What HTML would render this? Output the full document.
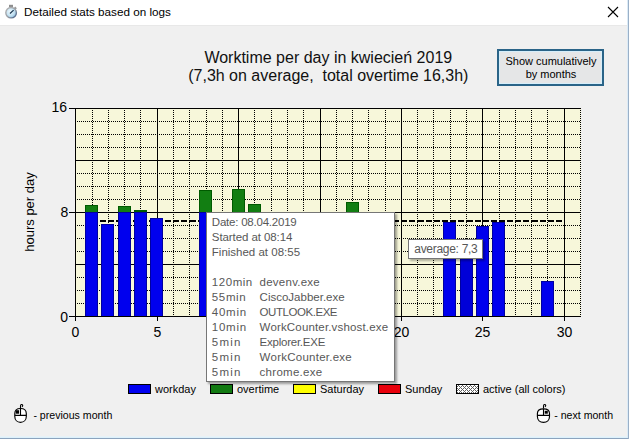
<!DOCTYPE html>
<html><head><meta charset="utf-8"><style>
*{margin:0;padding:0;box-sizing:border-box}
html,body{width:629px;height:439px;overflow:hidden;background:#F0F0F0;font-family:"Liberation Sans",sans-serif;}
.abs{position:absolute}
#tb{position:absolute;left:0;top:0;width:629px;height:25px;background:#fff}
.t11{position:absolute;font-size:11px;line-height:13px;color:#000;white-space:nowrap}
.ax{position:absolute;font-size:14px;line-height:16px;color:#000;white-space:nowrap}
#tt{position:absolute;left:206px;top:212px;width:189px;height:170px;background:#fff;border:1px solid #767676;box-shadow:2px 2px 2px rgba(0,0,0,0.35);}
#tt div{position:absolute;left:4.8px;font-size:11.5px;line-height:15px;color:#575757;white-space:nowrap}
#avg{position:absolute;left:408px;top:239px;width:75px;height:20px;letter-spacing:-0.3px;background:#fff;border:1px solid #767676;box-shadow:2px 2px 2px rgba(0,0,0,0.3);font-size:12px;line-height:19.5px;color:#575757;padding-left:5.3px;white-space:nowrap}
</style></head><body>
<div id="tb"></div>
<svg class="abs" style="left:0;top:0" width="629" height="439" shape-rendering="crispEdges">
<defs>
<pattern id="hatch" width="4" height="4" patternUnits="userSpaceOnUse">
<rect width="4" height="4" fill="#fff"/>
<rect x="1" y="0" width="1" height="1" fill="#606060"/><rect x="3" y="0" width="1" height="1" fill="#606060"/>
<rect x="2" y="1" width="1" height="1" fill="#606060"/>
<rect x="1" y="2" width="1" height="1" fill="#606060"/><rect x="3" y="2" width="1" height="1" fill="#606060"/>
<rect x="0" y="3" width="1" height="1" fill="#606060"/>
</pattern>
</defs>
<rect x="76" y="109" width="505" height="207" fill="#F7F7DA"/>
<line x1="75" y1="303.5" x2="581" y2="303.5" stroke="#000" stroke-dasharray="1 1"/>
<line x1="75" y1="290.5" x2="581" y2="290.5" stroke="#000" stroke-dasharray="1 1"/>
<line x1="75" y1="277.5" x2="581" y2="277.5" stroke="#000" stroke-dasharray="1 1"/>
<line x1="75" y1="264.5" x2="581" y2="264.5" stroke="#000"/>
<line x1="75" y1="251.5" x2="581" y2="251.5" stroke="#000" stroke-dasharray="1 1"/>
<line x1="75" y1="238.5" x2="581" y2="238.5" stroke="#000" stroke-dasharray="1 1"/>
<line x1="75" y1="225.5" x2="581" y2="225.5" stroke="#000" stroke-dasharray="1 1"/>
<line x1="75" y1="212.5" x2="581" y2="212.5" stroke="#000"/>
<line x1="75" y1="199.5" x2="581" y2="199.5" stroke="#000" stroke-dasharray="1 1"/>
<line x1="75" y1="186.5" x2="581" y2="186.5" stroke="#000" stroke-dasharray="1 1"/>
<line x1="75" y1="173.5" x2="581" y2="173.5" stroke="#000" stroke-dasharray="1 1"/>
<line x1="75" y1="160.5" x2="581" y2="160.5" stroke="#000"/>
<line x1="75" y1="147.5" x2="581" y2="147.5" stroke="#000" stroke-dasharray="1 1"/>
<line x1="75" y1="134.5" x2="581" y2="134.5" stroke="#000" stroke-dasharray="1 1"/>
<line x1="75" y1="121.5" x2="581" y2="121.5" stroke="#000" stroke-dasharray="1 1"/>
<line x1="92.5" y1="108" x2="92.5" y2="316" stroke="#000" stroke-dasharray="1 1"/>
<line x1="108.5" y1="108" x2="108.5" y2="316" stroke="#000" stroke-dasharray="1 1"/>
<line x1="124.5" y1="108" x2="124.5" y2="316" stroke="#000" stroke-dasharray="1 1"/>
<line x1="140.5" y1="108" x2="140.5" y2="316" stroke="#000" stroke-dasharray="1 1"/>
<line x1="157.5" y1="108" x2="157.5" y2="321" stroke="#000"/>
<line x1="173.5" y1="108" x2="173.5" y2="316" stroke="#000" stroke-dasharray="1 1"/>
<line x1="189.5" y1="108" x2="189.5" y2="316" stroke="#000" stroke-dasharray="1 1"/>
<line x1="206.5" y1="108" x2="206.5" y2="316" stroke="#000" stroke-dasharray="1 1"/>
<line x1="222.5" y1="108" x2="222.5" y2="316" stroke="#000" stroke-dasharray="1 1"/>
<line x1="238.5" y1="108" x2="238.5" y2="321" stroke="#000"/>
<line x1="254.5" y1="108" x2="254.5" y2="316" stroke="#000" stroke-dasharray="1 1"/>
<line x1="271.5" y1="108" x2="271.5" y2="316" stroke="#000" stroke-dasharray="1 1"/>
<line x1="287.5" y1="108" x2="287.5" y2="316" stroke="#000" stroke-dasharray="1 1"/>
<line x1="303.5" y1="108" x2="303.5" y2="316" stroke="#000" stroke-dasharray="1 1"/>
<line x1="320.5" y1="108" x2="320.5" y2="321" stroke="#000"/>
<line x1="336.5" y1="108" x2="336.5" y2="316" stroke="#000" stroke-dasharray="1 1"/>
<line x1="352.5" y1="108" x2="352.5" y2="316" stroke="#000" stroke-dasharray="1 1"/>
<line x1="368.5" y1="108" x2="368.5" y2="316" stroke="#000" stroke-dasharray="1 1"/>
<line x1="385.5" y1="108" x2="385.5" y2="316" stroke="#000" stroke-dasharray="1 1"/>
<line x1="401.5" y1="108" x2="401.5" y2="321" stroke="#000"/>
<line x1="417.5" y1="108" x2="417.5" y2="316" stroke="#000" stroke-dasharray="1 1"/>
<line x1="433.5" y1="108" x2="433.5" y2="316" stroke="#000" stroke-dasharray="1 1"/>
<line x1="450.5" y1="108" x2="450.5" y2="316" stroke="#000" stroke-dasharray="1 1"/>
<line x1="466.5" y1="108" x2="466.5" y2="316" stroke="#000" stroke-dasharray="1 1"/>
<line x1="482.5" y1="108" x2="482.5" y2="321" stroke="#000"/>
<line x1="499.5" y1="108" x2="499.5" y2="316" stroke="#000" stroke-dasharray="1 1"/>
<line x1="515.5" y1="108" x2="515.5" y2="316" stroke="#000" stroke-dasharray="1 1"/>
<line x1="531.5" y1="108" x2="531.5" y2="316" stroke="#000" stroke-dasharray="1 1"/>
<line x1="547.5" y1="108" x2="547.5" y2="316" stroke="#000" stroke-dasharray="1 1"/>
<line x1="564.5" y1="108" x2="564.5" y2="321" stroke="#000"/>
<line x1="580.5" y1="108" x2="580.5" y2="316" stroke="#000" stroke-dasharray="1 1"/>
<line x1="69" y1="108.5" x2="581" y2="108.5" stroke="#000"/>
<line x1="69" y1="316.5" x2="581" y2="316.5" stroke="#000"/>
<line x1="75.5" y1="108" x2="75.5" y2="321" stroke="#000"/>
<line x1="69" y1="212.5" x2="75" y2="212.5" stroke="#000"/>
<line x1="92.09" y1="221" x2="108.37" y2="221" stroke="#000" stroke-width="2" stroke-dasharray="6 2"/>
<line x1="108.37" y1="221" x2="124.65" y2="221" stroke="#000" stroke-width="2" stroke-dasharray="6 2"/>
<line x1="124.65" y1="221" x2="140.93" y2="221" stroke="#000" stroke-width="2" stroke-dasharray="6 2"/>
<line x1="140.93" y1="221" x2="157.21" y2="221" stroke="#000" stroke-width="2" stroke-dasharray="6 2"/>
<line x1="157.21" y1="221" x2="173.49" y2="221" stroke="#000" stroke-width="2" stroke-dasharray="6 2"/>
<line x1="173.49" y1="221" x2="189.77" y2="221" stroke="#000" stroke-width="2" stroke-dasharray="6 2"/>
<line x1="189.77" y1="221" x2="206.05" y2="221" stroke="#000" stroke-width="2" stroke-dasharray="6 2"/>
<line x1="206.05" y1="221" x2="222.33" y2="221" stroke="#000" stroke-width="2" stroke-dasharray="6 2"/>
<line x1="222.33" y1="221" x2="238.61" y2="221" stroke="#000" stroke-width="2" stroke-dasharray="6 2"/>
<line x1="238.61" y1="221" x2="254.89" y2="221" stroke="#000" stroke-width="2" stroke-dasharray="6 2"/>
<line x1="254.89" y1="221" x2="271.17" y2="221" stroke="#000" stroke-width="2" stroke-dasharray="6 2"/>
<line x1="271.17" y1="221" x2="287.45" y2="221" stroke="#000" stroke-width="2" stroke-dasharray="6 2"/>
<line x1="287.45" y1="221" x2="303.73" y2="221" stroke="#000" stroke-width="2" stroke-dasharray="6 2"/>
<line x1="303.73" y1="221" x2="320.01" y2="221" stroke="#000" stroke-width="2" stroke-dasharray="6 2"/>
<line x1="320.01" y1="221" x2="336.29" y2="221" stroke="#000" stroke-width="2" stroke-dasharray="6 2"/>
<line x1="336.29" y1="221" x2="352.57" y2="221" stroke="#000" stroke-width="2" stroke-dasharray="6 2"/>
<line x1="352.57" y1="221" x2="368.85" y2="221" stroke="#000" stroke-width="2" stroke-dasharray="6 2"/>
<line x1="368.85" y1="221" x2="385.13" y2="221" stroke="#000" stroke-width="2" stroke-dasharray="6 2"/>
<line x1="385.13" y1="221" x2="401.41" y2="221" stroke="#000" stroke-width="2" stroke-dasharray="6 2"/>
<line x1="401.41" y1="221" x2="417.69" y2="221" stroke="#000" stroke-width="2" stroke-dasharray="6 2"/>
<line x1="417.69" y1="221" x2="433.97" y2="221" stroke="#000" stroke-width="2" stroke-dasharray="6 2"/>
<line x1="433.97" y1="221" x2="450.25" y2="221" stroke="#000" stroke-width="2" stroke-dasharray="6 2"/>
<line x1="450.25" y1="221" x2="466.53" y2="221" stroke="#000" stroke-width="2" stroke-dasharray="6 2"/>
<line x1="466.53" y1="221" x2="482.81" y2="221" stroke="#000" stroke-width="2" stroke-dasharray="6 2"/>
<line x1="482.81" y1="221" x2="499.09" y2="221" stroke="#000" stroke-width="2" stroke-dasharray="6 2"/>
<line x1="499.09" y1="221" x2="515.37" y2="221" stroke="#000" stroke-width="2" stroke-dasharray="6 2"/>
<line x1="515.37" y1="221" x2="531.65" y2="221" stroke="#000" stroke-width="2" stroke-dasharray="6 2"/>
<line x1="531.65" y1="221" x2="547.93" y2="221" stroke="#000" stroke-width="2" stroke-dasharray="6 2"/>
<line x1="547.93" y1="221" x2="564.21" y2="221" stroke="#000" stroke-width="2" stroke-dasharray="6 2"/>
<rect x="85" y="205" width="13" height="7" fill="#005A00"/>
<rect x="86" y="206" width="11" height="6" fill="#127E12"/>
<rect x="85" y="212" width="13" height="104" fill="#0000A0"/>
<rect x="86" y="213" width="11" height="103" fill="#0000EE"/>
<rect x="101" y="224" width="13" height="92" fill="#0000A0"/>
<rect x="102" y="225" width="11" height="91" fill="#0000EE"/>
<rect x="118" y="206" width="13" height="6" fill="#005A00"/>
<rect x="119" y="207" width="11" height="5" fill="#127E12"/>
<rect x="118" y="212" width="13" height="104" fill="#0000A0"/>
<rect x="119" y="213" width="11" height="103" fill="#0000EE"/>
<rect x="134" y="210" width="13" height="2" fill="#005A00"/>
<rect x="134" y="212" width="13" height="104" fill="#0000A0"/>
<rect x="135" y="213" width="11" height="103" fill="#0000EE"/>
<rect x="150" y="218" width="13" height="98" fill="#0000A0"/>
<rect x="151" y="219" width="11" height="97" fill="#0000EE"/>
<rect x="199" y="190" width="13" height="22" fill="#005A00"/>
<rect x="200" y="191" width="11" height="21" fill="#127E12"/>
<rect x="199" y="212" width="13" height="104" fill="#0000A0"/>
<rect x="200" y="213" width="11" height="103" fill="#0000EE"/>
<rect x="215" y="226" width="13" height="90" fill="#0000A0"/>
<rect x="216" y="227" width="11" height="89" fill="#0000EE"/>
<rect x="232" y="189" width="13" height="23" fill="#005A00"/>
<rect x="233" y="190" width="11" height="22" fill="#127E12"/>
<rect x="232" y="212" width="13" height="104" fill="#0000A0"/>
<rect x="233" y="213" width="11" height="103" fill="#0000EE"/>
<rect x="248" y="204" width="13" height="8" fill="#005A00"/>
<rect x="249" y="205" width="11" height="7" fill="#127E12"/>
<rect x="248" y="212" width="13" height="104" fill="#0000A0"/>
<rect x="249" y="213" width="11" height="103" fill="#0000EE"/>
<rect x="264" y="222" width="13" height="94" fill="#0000A0"/>
<rect x="265" y="223" width="11" height="93" fill="#0000EE"/>
<rect x="313" y="215" width="13" height="101" fill="#0000A0"/>
<rect x="314" y="216" width="11" height="100" fill="#0000EE"/>
<rect x="329" y="223" width="13" height="93" fill="#0000A0"/>
<rect x="330" y="224" width="11" height="92" fill="#0000EE"/>
<rect x="346" y="202" width="13" height="10" fill="#005A00"/>
<rect x="347" y="203" width="11" height="9" fill="#127E12"/>
<rect x="346" y="212" width="13" height="104" fill="#0000A0"/>
<rect x="347" y="213" width="11" height="103" fill="#0000EE"/>
<rect x="362" y="219" width="13" height="97" fill="#0000A0"/>
<rect x="363" y="220" width="11" height="96" fill="#0000EE"/>
<rect x="378" y="225" width="13" height="91" fill="#0000A0"/>
<rect x="379" y="226" width="11" height="90" fill="#0000EE"/>
<rect x="443" y="222" width="13" height="94" fill="#0000A0"/>
<rect x="444" y="223" width="11" height="93" fill="#0000EE"/>
<rect x="460" y="248" width="13" height="68" fill="#0000A0"/>
<rect x="461" y="249" width="11" height="67" fill="#0000D8"/>
<rect x="476" y="226" width="13" height="90" fill="#0000A0"/>
<rect x="477" y="227" width="11" height="89" fill="#0000EE"/>
<rect x="492" y="222" width="13" height="94" fill="#0000A0"/>
<rect x="493" y="223" width="11" height="93" fill="#0000EE"/>
<rect x="541" y="281" width="13" height="35" fill="#0000A0"/>
<rect x="542" y="282" width="11" height="34" fill="#0000EE"/>
<line x1="69" y1="316.5" x2="581" y2="316.5" stroke="#000"/>
<rect x="128.5" y="384.5" width="22" height="9" fill="#0000F0" stroke="#000"/><rect x="210.5" y="384.5" width="22" height="9" fill="#127A12" stroke="#000"/><rect x="293.5" y="384.5" width="22" height="9" fill="#FFFF00" stroke="#000"/><rect x="378.5" y="384.5" width="22" height="9" fill="#E8000C" stroke="#000"/><rect x="456.5" y="384.5" width="22" height="9" fill="url(#hatch)" stroke="#000"/>
<!-- close X -->
<path d="M608 7L618 17M618 7L608 17" stroke="#000" stroke-width="1.1" shape-rendering="auto"/>
<!-- borders -->
<rect x="0" y="25" width="627" height="1" fill="#E8E8E8"/>
<rect x="0" y="436" width="627" height="1" fill="#E8F2F8"/>
<rect x="0" y="437" width="627" height="1" fill="#DDF1FB"/>
<rect x="0" y="438" width="629" height="1" fill="#8CA3BD"/>
<rect x="627" y="0" width="1" height="438" fill="#DCEBF6"/>
<rect x="628" y="0" width="1" height="439" fill="#9AB0C8"/>
</svg>
<!-- stopwatch icon -->
<svg class="abs" style="left:3px;top:3px" width="18" height="18" viewBox="0 0 18 18">
<defs><radialGradient id="face" cx="0.4" cy="0.4" r="0.7"><stop offset="0" stop-color="#EEF8FD"/><stop offset="0.55" stop-color="#C4E2F2"/><stop offset="1" stop-color="#86B8DC"/></radialGradient>
<linearGradient id="rim" x1="0" y1="0" x2="1" y2="1"><stop offset="0" stop-color="#B4B4B4"/><stop offset="0.55" stop-color="#9A9EA4"/><stop offset="1" stop-color="#3E5A86"/></linearGradient></defs>
<rect x="6" y="1.8" width="4" height="2.2" fill="#8e8e8e"/>
<rect x="11.2" y="4.2" width="2.4" height="1.8" fill="#9a9a9a" transform="rotate(45 12.4 5.1)"/>
<ellipse cx="8.1" cy="9.7" rx="5.3" ry="5.2" fill="url(#face)" stroke="url(#rim)" stroke-width="1.4"/>
<path d="M7 10.5L10.6 7.1" stroke="#18344e" stroke-width="1.2"/>
</svg>
<div class="abs" style="left:24px;top:5px;font-size:11.7px;line-height:14px;color:#000;white-space:nowrap">Detailed stats based on logs</div>

<!-- chart title -->
<div class="abs" style="left:128.3px;top:49px;width:400px;text-align:center;font-size:16px;line-height:17.6px;color:#111;white-space:pre">Worktime per day in kwiecień 2019
(7,3h on average,  total overtime 16,3h)</div>

<!-- button -->
<div class="abs" style="left:497px;top:49px;width:107px;height:37px;background:#E5E6E7;border:2px solid #2A6488;box-shadow:inset 0 0 0 1px #D6EEFA;"></div>
<div class="abs" style="left:497.5px;top:55px;width:107px;text-align:center;font-size:11px;line-height:12.5px;color:#000;white-space:pre">Show cumulatively
by months</div>

<!-- y axis title -->
<div class="abs" style="left:29.5px;top:212px;width:0;height:0">
<div style="position:absolute;left:-60px;top:-8px;width:120px;text-align:center;transform:rotate(-90deg);font-size:13px;line-height:16px;color:#000;white-space:nowrap">hours per day</div>
</div>

<!-- y labels -->
<div class="ax" style="left:27px;top:99px;width:40px;text-align:right">16</div>
<div class="ax" style="left:28.3px;top:204px;width:40px;text-align:right">8</div>
<div class="ax" style="left:28px;top:308.5px;width:40px;text-align:right">0</div>
<div class="ax" style="left:55.5px;top:324px;width:40px;text-align:center">0</div><div class="ax" style="left:137.5px;top:324px;width:40px;text-align:center">5</div><div class="ax" style="left:218.5px;top:324px;width:40px;text-align:center">10</div><div class="ax" style="left:300.5px;top:324px;width:40px;text-align:center">15</div><div class="ax" style="left:381.5px;top:324px;width:40px;text-align:center">20</div><div class="ax" style="left:462.5px;top:324px;width:40px;text-align:center">25</div><div class="ax" style="left:544.5px;top:324px;width:40px;text-align:center">30</div>

<!-- average label -->
<div id="avg">average: 7,3</div>

<!-- tooltip -->
<div id="tt">
<div style="top:2px;letter-spacing:-0.22px">Date: 08.04.2019</div>
<div style="top:17px;letter-spacing:-0.08px">Started at 08:14</div>
<div style="top:32px">Finished at 08:55</div>
<div style="top:62px;letter-spacing:0.55px">120min</div><div style="top:62px;left:52.6px;letter-spacing:0.24px">devenv.exe</div>
<div style="top:77px;letter-spacing:0.65px">55min</div><div style="top:77px;left:52.6px">CiscoJabber.exe</div>
<div style="top:92px;letter-spacing:0.75px">40min</div><div style="top:92px;left:52.6px;letter-spacing:-0.45px">OUTLOOK.EXE</div>
<div style="top:107px;letter-spacing:0.75px">10min</div><div style="top:107px;left:52.6px;letter-spacing:0.16px">WorkCounter.vshost.exe</div>
<div style="top:122px;letter-spacing:1.2px">5min</div><div style="top:122px;left:52.6px;letter-spacing:-0.24px">Explorer.EXE</div>
<div style="top:137px;letter-spacing:1.2px">5min</div><div style="top:137px;left:52.6px;letter-spacing:0.25px">WorkCounter.exe</div>
<div style="top:152px;letter-spacing:1.2px">5min</div><div style="top:152px;left:52.6px;letter-spacing:0.28px">chrome.exe</div>
</div>

<div class="t11" style="left:155px;top:383px">workday</div><div class="t11" style="left:237px;top:383px">overtime</div><div class="t11" style="left:320px;top:383px">Saturday</div><div class="t11" style="left:405px;top:383px">Sunday</div><div class="t11" style="left:483px;top:383px">active (all colors)</div>

<!-- mouse icons -->
<svg class="abs" style="left:10px;top:402px" width="22" height="24" viewBox="0 0 22 24">
<path d="M10.5 6.5 V3.9 C10.5 2.3 12.6 2.1 12.7 3.4 C12.7 4.1 12.3 4.5 11.9 4.7" stroke="#000" fill="none" stroke-width="1.1"/>
<path d="M4.8 11.5 C4.8 8.3 7.2 6.5 10.5 6.5 C13.8 6.5 16.3 8.3 16.3 11.5 V14.5 C16.3 18 13.8 20.3 10.5 20.3 C7.2 20.3 4.8 18 4.8 14.5 Z" fill="#fff" stroke="#000" stroke-width="1.15"/>
<path d="M4.8 13.4H16.3M10.5 6.5V13.4" stroke="#000" stroke-width="1.1"/>
<path d="M5.8 8.2 H9.1 V11.7 H5.8 Z" fill="#000"/>
</svg>
<div class="t11" style="left:33.4px;top:409px;font-size:10.6px">- previous month</div>
<svg class="abs" style="left:533px;top:402px" width="22" height="24" viewBox="0 0 22 24">
<path d="M10.5 6.5 V3.9 C10.5 2.3 12.6 2.1 12.7 3.4 C12.7 4.1 12.3 4.5 11.9 4.7" stroke="#000" fill="none" stroke-width="1.1"/>
<path d="M4.4 11.5 C4.4 8.3 7 6.8 10.5 6.8 C14 6.8 16.5 8.3 16.5 11.5 V14.5 C16.5 18 14 20.3 10.5 20.3 C7 20.3 4.4 18 4.4 14.5 Z" fill="#fff" stroke="#000" stroke-width="1.15"/>
<path d="M4.4 13.4H16.5M10.5 6.8V13.4" stroke="#000" stroke-width="1.1"/>
<path d="M11.7 8.8 H14.8 V11.7 H11.7 Z" fill="#000"/>
</svg>
<div class="t11" style="left:554.2px;top:409px;font-size:10.6px">- next month</div>
</body></html>
